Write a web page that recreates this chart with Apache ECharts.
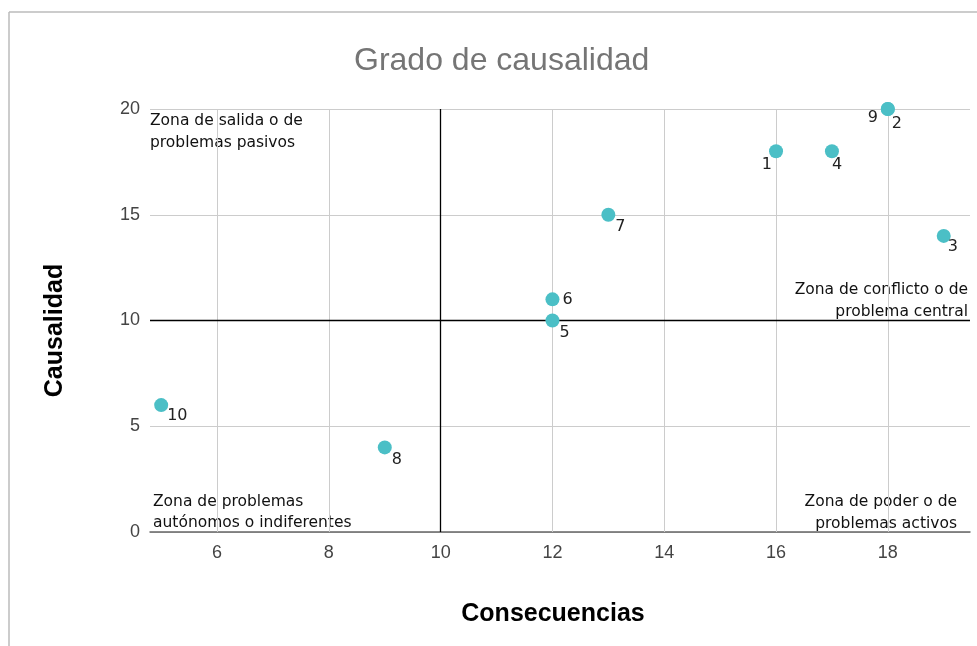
<!DOCTYPE html>
<html>
<head>
<meta charset="utf-8">
<style>
  html, body { margin: 0; padding: 0; background: #fff; }
  #chart { width: 977px; height: 646px; }
</style>
<script src="https://cdn.jsdelivr.net/npm/echarts@6/dist/echarts.min.js"></script>
</head>
<body>
<div id="chart"></div>
<script>
// datos
var names = ['1', '2', '3', '4', '5', '6', '7', '8', '9', '10']
var consecuencias = [16, 18, 19, 17, 12, 12, 13, 9, 18, 5]
var causalidad = [18, 20, 14, 18, 10, 11, 15, 4, 20, 6]
var xTicks = [6, 8, 10, 12, 14, 16, 18]
var corte = { x: 10, y: 10 }

// donde va cada etiqueta respecto al punto
var labelPos = {
  '1': { align: 'right', offset: [-4, 14] },
  '4': { align: 'left', offset: [0, 14] },
  '2': { align: 'left', offset: [4, 15] },
  '9': { align: 'right', offset: [-10, 9] },
  '3': { align: 'left', offset: [4, 11] },
  '6': { align: 'left', offset: [10, 0] },
  '10': { align: 'left', offset: [6, 11] }
}

var chart = echarts.init(document.getElementById('chart'))

var puntos = names.map(function (n, i) {
  var p = labelPos[n] || { align: 'left', offset: [7, 12] }
  return {
    name: n,
    value: [consecuencias[i], causalidad[i]],
    label: { align: p.align, offset: p.offset }
  }
})

var gridX = xTicks.map(function (v) {
  return { xAxis: v, lineStyle: { color: '#cccccc', width: 1, type: 'solid' } }
})

// textos de las zonas, una linea por elemento
function zona(texto, x, y, align) {
  return {
    type: 'text',
    x: x,
    y: y,
    style: {
      text: texto,
      align: align,
      verticalAlign: 'middle',
      fontFamily: 'DejaVu Sans',
      fontSize: 15.5,
      fill: '#111'
    }
  }
}

var option = {
  animation: false,
  backgroundColor: '#fff',
  title: {
    text: 'Grado de causalidad',
    left: 349,
    top: 40,
    textStyle: { fontFamily: 'Liberation Sans', fontSize: 32, fontWeight: 'normal', color: '#757575' }
  },
  grid: { left: 150, right: 7, top: 109, bottom: 114 },
  xAxis: {
    type: 'value',
    min: 4.8,
    max: 19.47,
    name: 'Consecuencias',
    nameLocation: 'middle',
    nameGap: 70,
    nameTextStyle: { fontFamily: 'Liberation Sans', fontSize: 25, fontWeight: 'bold', color: '#000', padding: [0, 14, 0, 0] },
    axisLine: { show: true, lineStyle: { color: '#666', width: 1.5 } },
    axisTick: { show: false },
    splitLine: { show: false },
    axisLabel: {
      customValues: xTicks,
      margin: 12,
      fontFamily: 'Liberation Sans', fontSize: 18, color: '#444'
    }
  },
  yAxis: {
    type: 'value',
    min: 0,
    max: 20,
    interval: 5,
    name: 'Causalidad',
    nameLocation: 'middle',
    nameGap: 82,
    nameTextStyle: { fontFamily: 'Liberation Sans', fontSize: 25, fontWeight: 'bold', color: '#000', padding: [0, 20, 0, 0] },
    axisLine: { show: false },
    axisTick: { show: false },
    splitLine: { lineStyle: { color: '#cccccc', width: 1 } },
    axisLabel: { margin: 10, fontFamily: 'Liberation Sans', fontSize: 18, color: '#444' }
  },
  series: [{
    type: 'scatter',
    symbolSize: 14,
    itemStyle: { color: '#4bbfc6', opacity: 1 },
    label: {
      show: true,
      position: 'inside',
      verticalAlign: 'middle',
      formatter: '{b}',
      fontFamily: 'DejaVu Sans',
      fontSize: 16,
      color: '#222'
    },
    markLine: {
      silent: true,
      symbol: 'none',
      label: { show: false },
      z: 1,
      data: gridX.concat([
        { xAxis: corte.x, lineStyle: { color: '#000', width: 1.3, type: 'solid' } },
        { yAxis: corte.y, lineStyle: { color: '#000', width: 1.3, type: 'solid' } }
      ])
    },
    data: puntos,
    z: 5
  }],
  graphic: [
    { type: 'line', shape: { x1: 9, y1: 12, x2: 977, y2: 12 }, style: { stroke: '#bbb', lineWidth: 1.5 } },
    { type: 'line', shape: { x1: 9, y1: 12, x2: 9, y2: 646 }, style: { stroke: '#bbb', lineWidth: 1.5 } },
    zona('Zona de salida o de', 150, 121, 'left'),
    zona('problemas pasivos', 150, 143, 'left'),
    zona('Zona de conflicto o de', 968, 290, 'right'),
    zona('problema central', 968, 312, 'right'),
    zona('Zona de problemas', 153, 502, 'left'),
    zona('autónomos o indiferentes', 153, 523, 'left'),
    zona('Zona de poder o de', 957, 502, 'right'),
    zona('problemas activos', 957, 524, 'right')
  ]
}

chart.setOption(option)
</script>
</body>
</html>
